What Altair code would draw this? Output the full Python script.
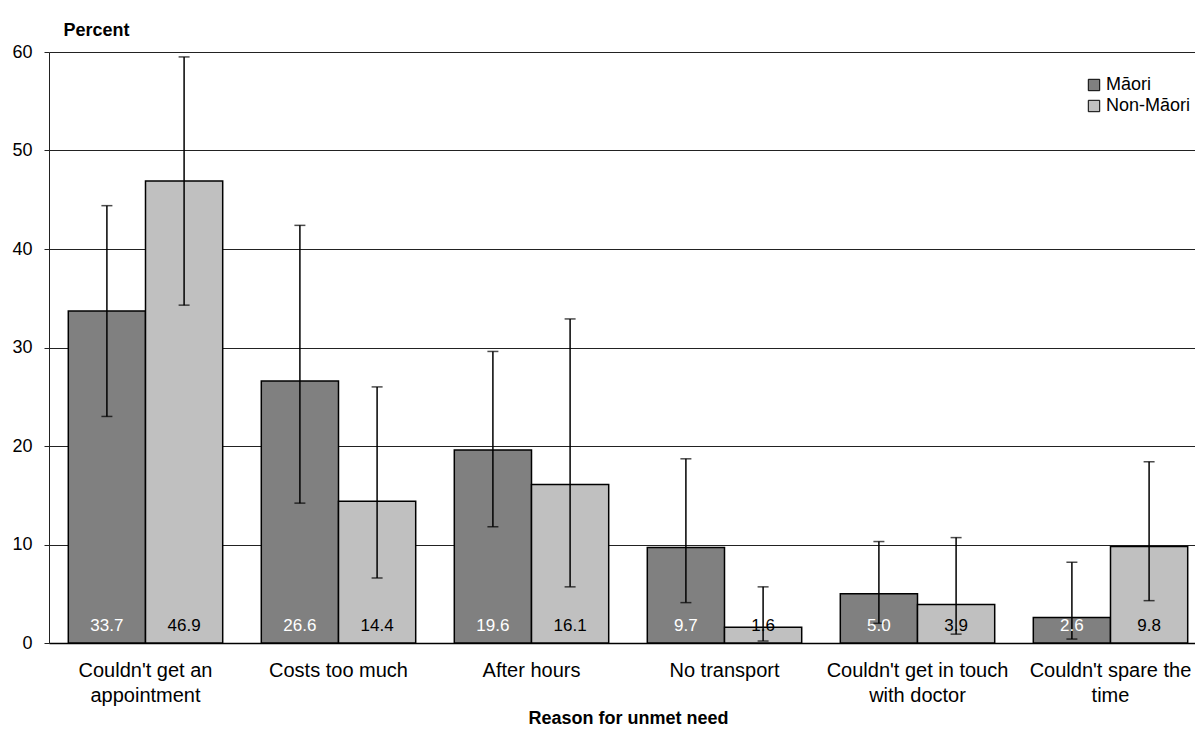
import altair as alt
import pandas as pd

categories = [
    "Couldn't get an\nappointment",
    "Costs too much",
    "After hours",
    "No transport",
    "Couldn't get in touch\nwith doctor",
    "Couldn't spare the\ntime",
]
groups = ["Māori", "Non-Māori"]
maori = [33.7, 26.6, 19.6, 9.7, 5.0, 2.6]
non_maori = [46.9, 14.4, 16.1, 1.6, 3.9, 9.8]
maori_low = [23.0, 14.2, 11.8, 4.1, 2.0, 0.4]
maori_high = [44.4, 42.4, 29.6, 18.7, 10.3, 8.2]
non_low = [34.3, 6.6, 5.7, 0.2, 0.9, 4.3]
non_high = [59.5, 26.0, 32.9, 5.7, 10.7, 18.4]
y_ticks = [0, 10, 20, 30, 40, 50, 60]

rows = []
for i, c in enumerate(categories):
    rows.append(dict(cat=c, group=groups[0], value=maori[i], lo=maori_low[i], hi=maori_high[i],
                     label=f"{maori[i]:.1f}"))
    rows.append(dict(cat=c, group=groups[1], value=non_maori[i], lo=non_low[i], hi=non_high[i],
                     label=f"{non_maori[i]:.1f}"))
df = pd.DataFrame(rows)

FONT = "Liberation Sans"
W = 1158

x_enc = alt.X(
    "cat:N",
    sort=categories,
    scale=alt.Scale(paddingInner=0.2, paddingOuter=0.1),
    axis=alt.Axis(
        title="Reason for unmet need",
        titleFont=FONT, titleFontSize=18, titleFontWeight="bold", titleColor="black",
        titleY=75, titleX=W / 2, titleAnchor="middle", titleBaseline="middle",
        labelFont=FONT, labelFontSize=20, labelColor="black", labelAngle=0,
        labelLineHeight=25, labelBaseline="top", labelPadding=17, labelLimit=0,
        labelExpr="split(datum.label, '\\n')",
        ticks=False, domainColor="black", domainWidth=1.5,
    ),
)
xo = alt.XOffset("group:N", sort=groups, scale=alt.Scale(paddingInner=0, paddingOuter=0))
y_scale = alt.Scale(domain=[0, 60], nice=False)

bars = alt.Chart(df).mark_bar(stroke="black", strokeWidth=1.5).encode(
    x=x_enc,
    xOffset=xo,
    y=alt.Y(
        "value:Q",
        scale=y_scale,
        axis=alt.Axis(
            values=y_ticks, title="Percent", titleAngle=0, titleAlign="left",
            titleX=14, titleY=-22, titleBaseline="middle",
            titleFont=FONT, titleFontSize=18, titleFontWeight="bold", titleColor="black",
            labelFont=FONT, labelFontSize=18, labelColor="black", labelPadding=12,
            tickSize=5, tickColor="#222", domainColor="#222", gridColor="#222",
            gridWidth=1, grid=True,
        ),
    ),
    color=alt.Color(
        "group:N",
        sort=groups,
        scale=alt.Scale(domain=groups, range=["#808080", "#c0c0c0"]),
        legend=alt.Legend(
            title=None, orient="none", legendX=1036, legendY=24,
            symbolType="square", symbolSize=130, symbolStrokeColor="black",
            symbolStrokeWidth=1, labelFont=FONT, labelFontSize=18, labelColor="black",
            rowPadding=3, labelOffset=3,
        ),
    ),
)

err = alt.Chart(df).mark_rule(color="black", strokeWidth=1.5).encode(
    x=alt.X("cat:N", sort=categories), xOffset=xo,
    y=alt.Y("lo:Q", scale=y_scale), y2="hi:Q",
)
cap_lo = alt.Chart(df).mark_tick(color="black", size=11, thickness=1.5).encode(
    x=alt.X("cat:N", sort=categories), xOffset=xo, y=alt.Y("lo:Q", scale=y_scale),
)
cap_hi = alt.Chart(df).mark_tick(color="black", size=11, thickness=1.5).encode(
    x=alt.X("cat:N", sort=categories), xOffset=xo, y=alt.Y("hi:Q", scale=y_scale),
)

labels = alt.Chart(df).mark_text(font=FONT, fontSize=17, baseline="middle", dy=-17).encode(
    x=alt.X("cat:N", sort=categories), xOffset=xo,
    y=alt.datum(0, scale=y_scale),
    text="label:N",
    color=alt.Color("group:N", sort=groups,
                    scale=alt.Scale(domain=groups, range=["white", "black"]), legend=None),
)

chart = (
    alt.layer(bars, err, cap_lo, cap_hi, labels)
    .resolve_scale(color="independent")
    .properties(
        width=W, height=591,
        autosize=alt.AutoSizeParams(type="none"),
        padding={"left": 41, "top": 44, "right": -12, "bottom": 90},
        background="white",
    )
    .configure_view(stroke=None)
)

chart.save("out.html", embed_options={"renderer": "svg", "actions": False})
